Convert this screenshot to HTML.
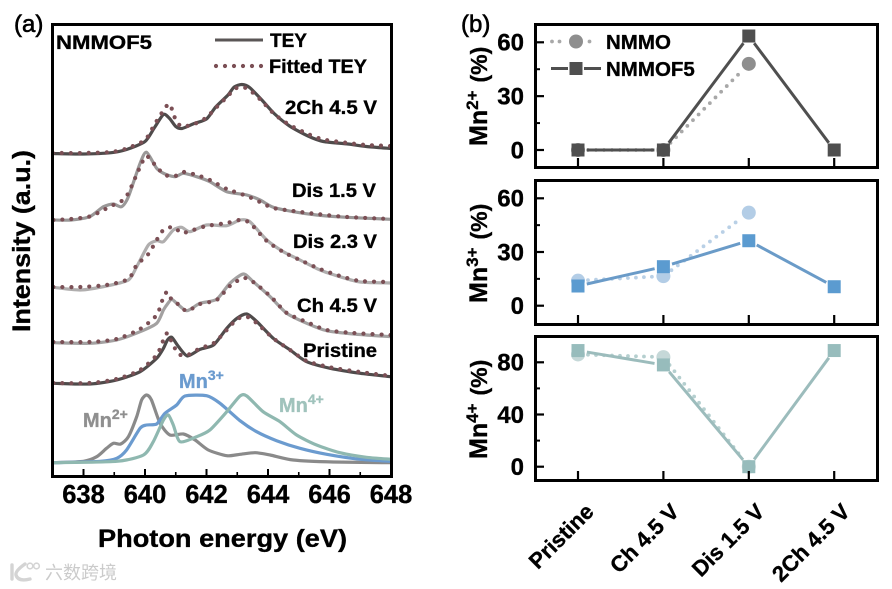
<!DOCTYPE html>
<html lang="en">
<head>
<meta charset="utf-8">
<title>NMMOF5 XAS chart</title>
<style>
html,body{margin:0;padding:0;background:#fff;width:892px;height:589px;overflow:hidden}
svg{display:block;font-family:"Liberation Sans",Arial,sans-serif;font-weight:bold}
svg text{stroke:#000;stroke-width:.35px}
svg text.mn2{stroke:#8f8f8f}
svg text.mn3{stroke:#6b9bcf}
svg text.mn4{stroke:#a0c3bc}
svg text.wm{stroke:none}
</style>
</head>
<body>
<svg id="fig" xmlns="http://www.w3.org/2000/svg" width="892" height="589" viewBox="0 0 892 589">
  <defs>
    <clipPath id="clipA"><rect x="52" y="24" width="340" height="453"/></clipPath>
  </defs>
  <rect width="892" height="589" fill="#fff"/>
  <g id="spectra" clip-path="url(#clipA)"></g>
  <g id="panels"></g>
  <rect x="52.5" y="24.5" width="339" height="452" fill="none" stroke="#000" stroke-width="3"/>
  <rect x="535.5" y="24.5" width="342" height="143" fill="none" stroke="#000" stroke-width="3"/>
  <rect x="535.5" y="180.5" width="342" height="144" fill="none" stroke="#000" stroke-width="3"/>
  <rect x="535.5" y="336.5" width="342" height="144" fill="none" stroke="#000" stroke-width="3"/>
  <g id="axes"></g>

  <text x="14" y="32" font-size="24" font-weight="normal" style="stroke-width:.6px">(a)</text>
  <text x="461" y="32" font-size="24" font-weight="normal" style="stroke-width:.6px">(b)</text>

  <text x="56" y="49" font-size="19" textLength="96" lengthAdjust="spacingAndGlyphs">NMMOF5</text>
  <line x1="215" y1="40" x2="263" y2="40" stroke="#5a5656" stroke-width="3"/>
  <text x="270" y="47" font-size="19" textLength="37" lengthAdjust="spacingAndGlyphs">TEY</text>
  <line x1="216" y1="66" x2="263" y2="66" stroke="#7b4f55" stroke-width="4.2" stroke-linecap="round" stroke-dasharray="0 9"/>
  <text x="269" y="73" font-size="19" textLength="98" lengthAdjust="spacingAndGlyphs">Fitted TEY</text>

  <text x="285" y="114" font-size="19" textLength="92" lengthAdjust="spacingAndGlyphs">2Ch 4.5 V</text>
  <text x="292" y="197" font-size="19" textLength="84" lengthAdjust="spacingAndGlyphs">Dis 1.5 V</text>
  <text x="293" y="248" font-size="19" textLength="84" lengthAdjust="spacingAndGlyphs">Dis 2.3 V</text>
  <text x="297" y="312" font-size="19" textLength="80" lengthAdjust="spacingAndGlyphs">Ch 4.5 V</text>
  <text x="303" y="357" font-size="19" textLength="74" lengthAdjust="spacingAndGlyphs">Pristine</text>

  <text class="mn2" x="83" y="427" font-size="20" fill="#8f8f8f">Mn<tspan font-size="14" dy="-8">2+</tspan></text>
  <text class="mn3" x="179" y="388" font-size="20" fill="#6b9bcf">Mn<tspan font-size="14" dy="-8">3+</tspan></text>
  <text class="mn4" x="279" y="412" font-size="20" fill="#a0c3bc">Mn<tspan font-size="14" dy="-8">4+</tspan></text>

  <text x="98" y="547" font-size="25" textLength="249" lengthAdjust="spacingAndGlyphs">Photon energy (eV)</text>
  <text transform="translate(30,332) rotate(-90)" font-size="25" textLength="182" lengthAdjust="spacingAndGlyphs">Intensity (a.u.)</text>

  <text transform="translate(487,146) rotate(-90)" font-size="25">Mn<tspan font-size="17" dy="-9">2+</tspan><tspan font-size="23" dy="9" dx="8">(%)</tspan></text>
  <text transform="translate(487,303) rotate(-90)" font-size="25">Mn<tspan font-size="17" dy="-9">3+</tspan><tspan font-size="23" dy="9" dx="8">(%)</tspan></text>
  <text transform="translate(487,459) rotate(-90)" font-size="25">Mn<tspan font-size="17" dy="-9">4+</tspan><tspan font-size="23" dy="9" dx="8">(%)</tspan></text>

  <line x1="552" y1="41.5" x2="596" y2="41.5" stroke="#a8a8a8" stroke-width="3.8" stroke-linecap="round" stroke-dasharray="0 7.5"/>
  <rect x="565" y="30" width="22" height="23" fill="#fff"/>
  <circle cx="576" cy="41.5" r="7" fill="#8e8e8e"/>
  <text x="606" y="49" font-size="20.5">NMMO</text>
  <line x1="551" y1="68.5" x2="568" y2="68.5" stroke="#4f4f4f" stroke-width="3"/>
  <line x1="584" y1="68.5" x2="601" y2="68.5" stroke="#4f4f4f" stroke-width="3"/>
  <rect x="569.5" y="62" width="13" height="13" fill="#4f4f4f"/>
  <text x="606" y="76" font-size="20.5">NMMOF5</text>

  <g>
    <path d="M12 565 v14 M25 564 q-10 7 -9 11 q2 7 14 4" fill="none" stroke="#d4d4d4" stroke-width="3.4" stroke-linecap="round"/>
    <circle cx="30" cy="566" r="2.8" fill="none" stroke="#d4d4d4" stroke-width="1.6"/>
    <circle cx="36.5" cy="566" r="2.8" fill="none" stroke="#d4d4d4" stroke-width="1.6"/>
    <text class="wm" x="45" y="579" font-size="18" font-weight="normal" fill="#cbcbcb" style="font-family:'Liberation Sans','Noto Sans CJK SC',sans-serif">六数跨境</text>
  </g>
</svg>
<script>
/* Spectra data: photon energy (eV) and intensity (a.u., stacked) */
const e2Ch = [637,638,638.9,639.4,640,640.3,640.6,640.8,641,641.2,641.6,642,642.3,642.7,642.9,643.15,643.4,643.8,644.2,644.7,645.3,645.8,646.6,647.2,648];
const tey2Ch = [322.5,322,323.3,326.5,334.5,348,361.5,357.5,349.5,347.5,352.5,357,369,381,389,391.5,388.5,376,362.5,350,340,334.5,332,329.5,327.5];
const fit2Ch = [323,323,324,327.5,336,351,365.5,372,356,349.5,352,358.5,368,380,387,389,386,375,362,351,342,336.5,333,331,330];

const eDis15 = [637.02,637.6,638.2,638.65,638.97,639.24,639.46,639.84,640.05,640.38,640.65,640.98,641.25,641.68,642.11,642.66,643.31,643.74,644.17,644.82,645.58,646.56,648];
const teyDis15 = [256,256,259.3,269.3,272,269.3,279.3,312.7,323.7,307.7,302,299.3,302.7,299.3,294.3,284.3,281,276,268.7,264.3,261,258.7,256.7];
const fitDis15 = [256,257,259.5,266,271,275,283,309,320,309,301,300,304,301,296,287,280,274,268,265,262,259,257];

const eDis23 = [637.02,637.89,638.75,639.46,639.73,640.11,640.38,640.6,640.92,641.19,641.46,642,642.66,643.09,643.41,643.96,644.5,645.04,645.69,646.34,647,648];
const teyDis23 = [188.7,186,190,196,209.3,231,235.3,234.3,246,248.7,244.3,251,250.3,256,254.3,236,224.3,216,206,199.3,194,193];
const fitDis23 = [189,189,191,197,211,222,236,246,249,243,245,250,253,256,253,235,224,216,207,200,195,194];

const eCh = [637.02,638.21,639.08,639.84,640.38,640.6,640.73,640.87,641.03,641.36,641.79,642.33,642.76,643.2,643.52,644.07,644.61,645.26,645.91,646.78,648];
const teyCh = [133.3,132.7,136,144.3,152.7,166,172,176.7,172.7,165.3,172.7,176.7,192.7,202,194.3,179.3,162.7,152.7,145.3,142,139.3];
const fitCh = [134,134,137,147,161,179,184,176,173,165,172,176,190,198,194,180,163,154,146,143,141];

const ePristine = [637.02,638.21,639.08,639.84,640.38,640.6,640.73,640.87,641.09,641.38,641.79,642.23,642.66,642.99,643.31,643.64,644.17,644.72,645.26,646.02,647,648];
const teyPristine = [92.7,92,96,104.3,117.7,127.7,136,138.7,129.3,120,126.7,131,147.7,157.7,162,154.3,137.7,126,114.3,107.7,102.7,99.3];
const fitPristine = [93,93,97,106,121,136,143,134,122,121,127.7,132.7,146,156.7,159.3,152.7,137.7,126,115,108.7,104,100];

const eMn2 = [637.02,638,638.43,638.75,638.97,639.21,639.46,639.73,639.89,640.05,640.21,640.49,640.81,641.25,641.63,642.06,642.66,643.09,643.58,644.07,644.82,646.12,648];
const refMn2 = [13.3,14.7,19.3,27.7,32.7,32,39.3,59.3,76,81,76,52.7,41,42,36,26,20.3,21.7,23.3,21,16,14,13.3];
const eMn3 = [637.02,638.54,639.08,639.4,639.84,640.05,640.38,640.65,641.03,641.3,642,642.44,643.09,643.63,644.28,645.04,645.91,647,648];
const refMn3 = [13.3,14.7,17.7,26,47.7,51,52,62.7,71,80,80.3,72.7,55.3,44.3,35.3,27.7,21.7,16.7,14.7];
const eMn4 = [637.02,639.08,639.95,640.27,640.6,640.76,640.92,641.14,641.68,642.11,642.66,643.09,643.31,643.84,644.39,644.93,645.58,646.34,647.2,648];
const refMn4 = [13.3,14.7,21,34.3,56,61,51,34.3,39.3,46,64.3,80,80,64.3,54.3,41,31,23.3,18.7,16.7];

const energyTicks = [638,640,642,644,646,648];
const energyMinorTicks = [639,641,643,645,647];

/* Fraction data (%) */
const categories = ["Pristine","Ch 4.5 V","Dis 1.5 V","2Ch 4.5 V"];
const mn2Nmmo = [0,0,48];
const mn2Nmmof5 = [0,0,63.5,0];
const mn3Nmmo = [14,16.5,52];
const mn3Nmmof5 = [11,21.8,36.3,10.6];
const mn4Nmmo = [86,84,0];
const mn4Nmmof5 = [89,78,0,89];
const mn2Ticks = [0,30,60];
const mn2MinorTicks = [15,45];
const mn3Ticks = [0,30,60];
const mn3MinorTicks = [15,45];
const mn4Ticks = [0,40,80];
const mn4MinorTicks = [20,60];

const SVGNS = "http://www.w3.org/2000/svg";
const xE = e => 83.5 + (e - 638) * 30.75;
const yI = v => 476 - v;
const xCat = i => 578 + 85.4 * i;

function make(tag, parent, attrs) {
  const el = document.createElementNS(SVGNS, tag);
  Object.keys(attrs).forEach(k => el.setAttribute(k, attrs[k]));
  parent.appendChild(el);
  return el;
}

function smoothPath(pts) {
  let d = "M" + pts[0][0].toFixed(2) + " " + pts[0][1].toFixed(2);
  for (let i = 0; i < pts.length - 1; i++) {
    const p0 = pts[Math.max(i - 1, 0)], p1 = pts[i], p2 = pts[i + 1], p3 = pts[Math.min(i + 2, pts.length - 1)];
    const t = 0.12;
    const c1x = p1[0] + (p2[0] - p0[0]) * t, c1y = p1[1] + (p2[1] - p0[1]) * t;
    const c2x = p2[0] - (p3[0] - p1[0]) * t, c2y = p2[1] - (p3[1] - p1[1]) * t;
    d += "C" + c1x.toFixed(2) + " " + c1y.toFixed(2) + " " + c2x.toFixed(2) + " " + c2y.toFixed(2) + " " + p2[0].toFixed(2) + " " + p2[1].toFixed(2);
  }
  return d;
}

const spectra = document.getElementById("spectra");
const panels = document.getElementById("panels");
const axes = document.getElementById("axes");

function drawCurve(es, vs, color, width, name) {
  const pts = es.map((e, i) => [xE(e), yI(vs[i])]);
  const el = make("path", spectra, {d: smoothPath(pts), fill: "none", stroke: color, "stroke-width": width, "stroke-linejoin": "round"});
  
  
}
function drawFit(es, vs, name) {
  const pts = es.map((e, i) => [xE(e), yI(vs[i])]);
  const el = make("path", spectra, {d: smoothPath(pts), fill: "none", stroke: "#7b4f55", "stroke-width": 4.2, "stroke-linecap": "round", "stroke-dasharray": "0 9"});
  
  
}

drawCurve(eMn2, refMn2, "#8a8a8a", 3.2, "reference-mn2-curve");
drawCurve(eMn3, refMn3, "#6b9bcf", 3.2, "reference-mn3-curve");
drawCurve(eMn4, refMn4, "#8fb8b0", 3.2, "reference-mn4-curve");

drawCurve(ePristine, teyPristine, "#4f4b4b", 3.2, "tey-pristine");
drawFit(ePristine, fitPristine, "fit-pristine");
drawCurve(eCh, teyCh, "#a3a1a1", 3.2, "tey-ch");
drawFit(eCh, fitCh, "fit-ch");
drawCurve(eDis23, teyDis23, "#b0aeae", 3.2, "tey-dis23");
drawFit(eDis23, fitDis23, "fit-dis23");
drawCurve(eDis15, teyDis15, "#9a9898", 3.2, "tey-dis15");
drawFit(eDis15, fitDis15, "fit-dis15");
drawCurve(e2Ch, tey2Ch, "#4f4b4b", 3.2, "tey-2ch");
drawFit(e2Ch, fit2Ch, "fit-2ch");

energyTicks.forEach(t => {
  const x = xE(t);
  const tick = make("line", axes, {x1: x, x2: x, y1: 476, y2: 469, stroke: "#000", "stroke-width": 2});
  
  
  const label = make("text", axes, {x: x, y: 503, "font-size": 25.5, "text-anchor": "middle"});
  label.textContent = t;
  
  
});
energyMinorTicks.forEach(t => {
  const x = xE(t);
  const tick = make("line", axes, {x1: x, x2: x, y1: 476, y2: 472, stroke: "#000", "stroke-width": 1.6});
  
  
});

function drawSegments(vals, yFn, color, width, dash, gap, name) {
  for (let i = 0; i < vals.length - 1; i++) {
    const x1 = xCat(i), y1 = yFn(vals[i]), x2 = xCat(i + 1), y2 = yFn(vals[i + 1]);
    const len = Math.hypot(x2 - x1, y2 - y1);
    if (len <= gap * 2) continue;
    const ux = (x2 - x1) / len, uy = (y2 - y1) / len;
    const attrs = {x1: x1 + ux * gap, y1: y1 + uy * gap, x2: x2 - ux * gap, y2: y2 - uy * gap, stroke: color, "stroke-width": width};
    if (dash) { attrs["stroke-dasharray"] = dash; attrs["stroke-linecap"] = "round"; }
    const el = make("line", panels, attrs);
    
    
  }
}

function drawPanel(cfg) {
  const yFn = v => cfg.y0 - v * cfg.scale;
  drawSegments(cfg.nmmo, yFn, cfg.dotColor, 3.8, "0 8", 10, cfg.key + "-nmmo-line");
  for (let i = 0; i < cfg.nmmo.length; i++) {
    const c = make("circle", panels, {cx: xCat(i), cy: yFn(cfg.nmmo[i]), r: 7, fill: cfg.circleColor});
    
    
  }
  drawSegments(cfg.f5, yFn, cfg.lineColor, 3, null, 9, cfg.key + "-nmmof5-line");
  for (let i = 0; i < cfg.f5.length; i++) {
    const r = make("rect", panels, {x: xCat(i) - 6.5, y: yFn(cfg.f5[i]) - 6.5, width: 13, height: 13, fill: cfg.squareColor});
    
    
  }
  cfg.ticks.forEach(t => {
    const y = yFn(t);
    const tick = make("line", axes, {x1: 535, x2: 544, y1: y, y2: y, stroke: "#000", "stroke-width": 2.2});
    
    
    const label = make("text", axes, {x: 524, y: y + 8.3, "font-size": 24, "text-anchor": "end"});
    label.textContent = t;
    
    
  });
  cfg.minor.forEach(t => {
    const y = yFn(t);
    const tick = make("line", axes, {x1: 535, x2: 540, y1: y, y2: y, stroke: "#000", "stroke-width": 2});
    
    
  });
  categories.forEach((c, i) => {
    const x = xCat(i);
    const tick = make("line", axes, {x1: x, x2: x, y1: cfg.bottom, y2: cfg.bottom - 9, stroke: "#000", "stroke-width": 2.2});
    
    
  });
}

drawPanel({key: "mn2", y0: 150, scale: 1.795, bottom: 167, nmmo: mn2Nmmo, f5: mn2Nmmof5, ticks: mn2Ticks, minor: mn2MinorTicks, dotColor: "#a8a8a8", circleColor: "#8e8e8e", lineColor: "#4f4f4f", squareColor: "#4f4f4f"});
drawPanel({key: "mn3", y0: 305.7, scale: 1.79, bottom: 324, nmmo: mn3Nmmo, f5: mn3Nmmof5, ticks: mn3Ticks, minor: mn3MinorTicks, dotColor: "#b9d0e6", circleColor: "#b3cde6", lineColor: "#6a9bc8", squareColor: "#5b9bd0"});
drawPanel({key: "mn4", y0: 466.7, scale: 1.305, bottom: 480, nmmo: mn4Nmmo, f5: mn4Nmmof5, ticks: mn4Ticks, minor: mn4MinorTicks, dotColor: "#b5cfcf", circleColor: "#c5d8d8", lineColor: "#9cbcbc", squareColor: "#97bcbc"});

categories.forEach((c, i) => {
  const x = 595 + 85.4 * i;
  const label = make("text", axes, {transform: "translate(" + x + ",513) rotate(-45)", "font-size": 22, "text-anchor": "end"});
  label.textContent = c;
  
  
});
</script>
</body>
</html>
